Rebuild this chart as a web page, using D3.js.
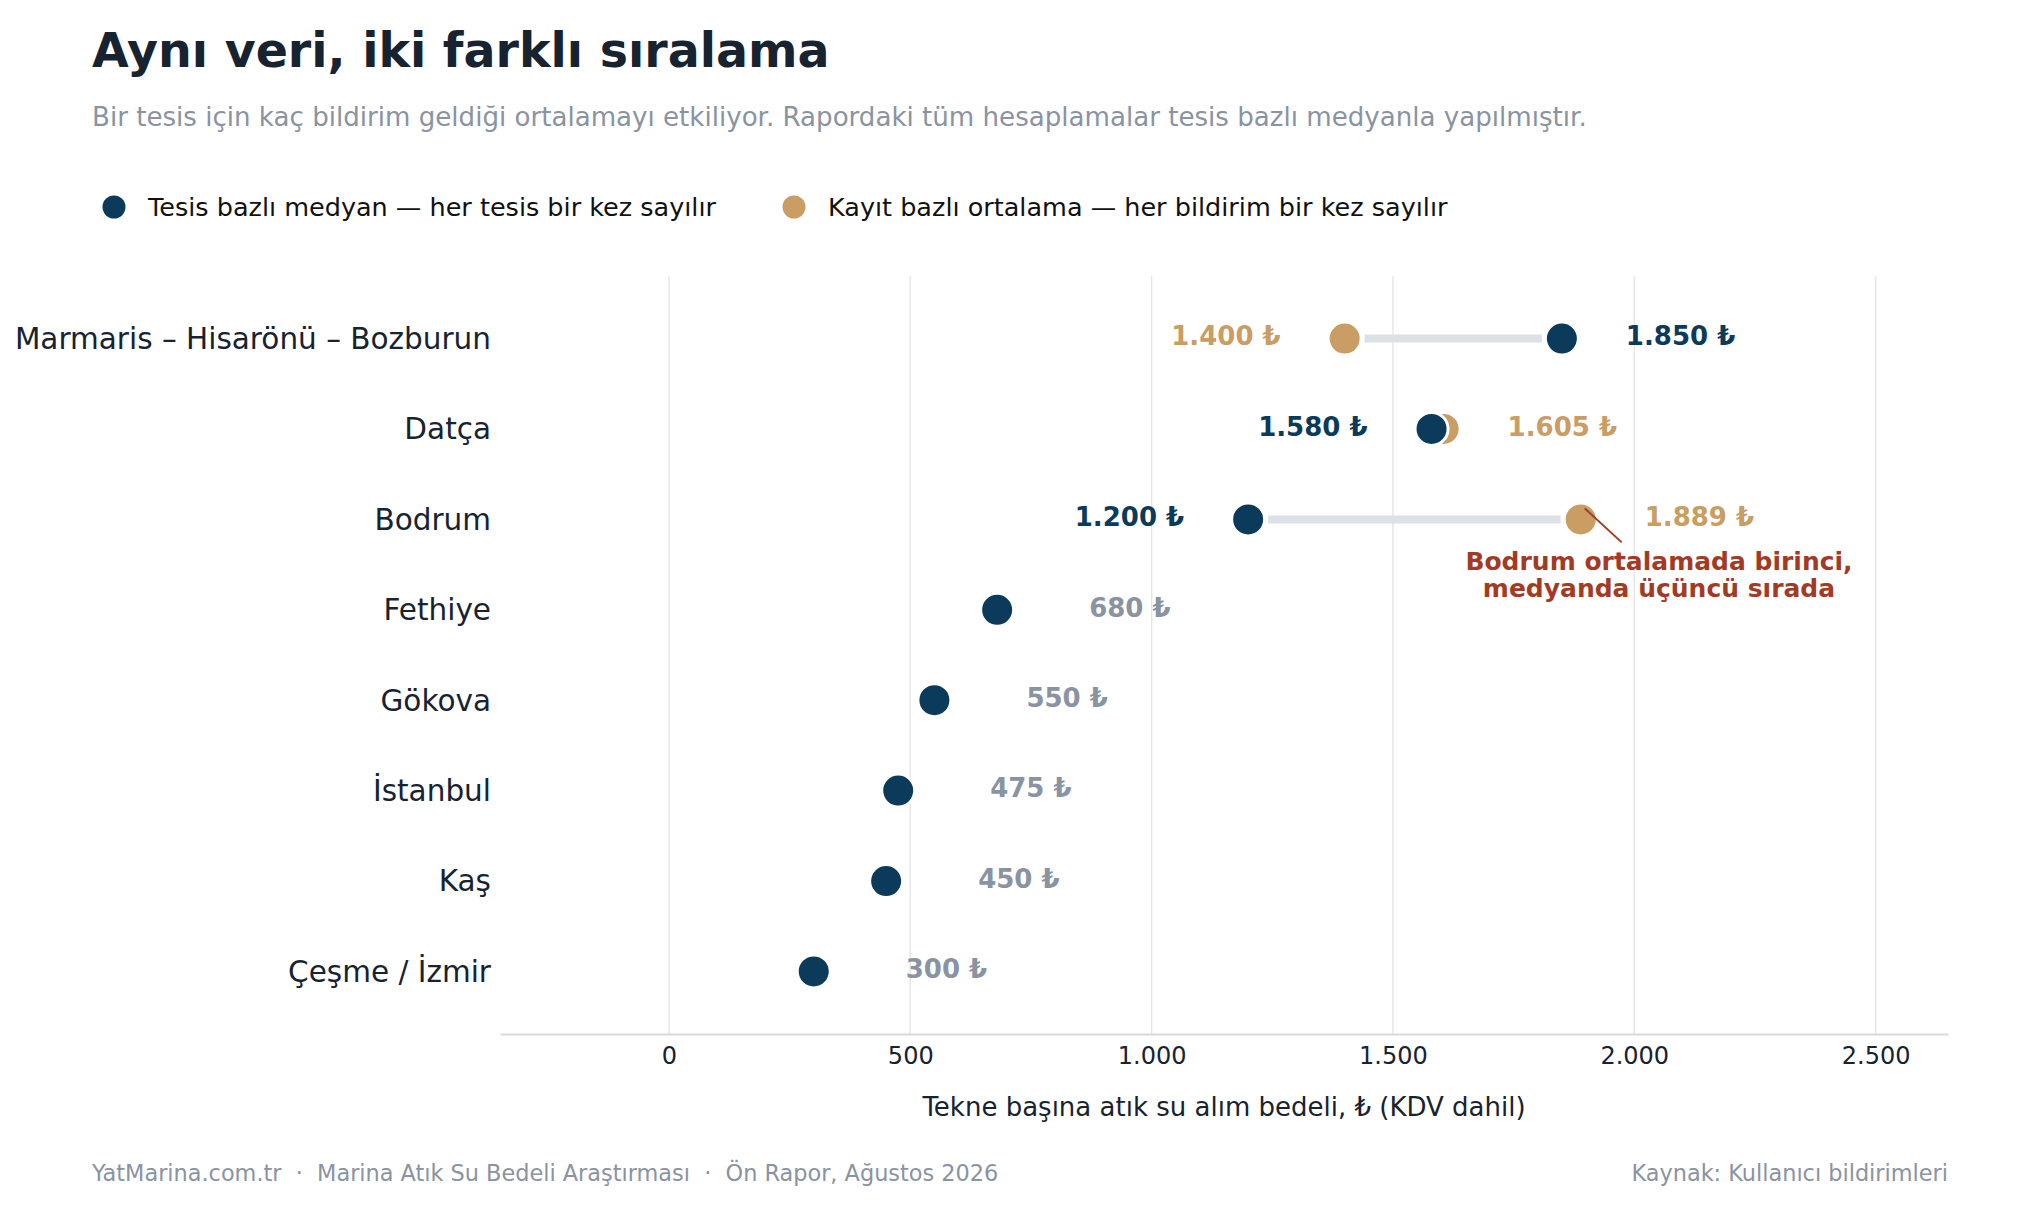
<!DOCTYPE html>
<html lang="tr">
<head>
<meta charset="utf-8">
<script src="https://cdn.jsdelivr.net/npm/d3@7"></script>
<style>
  html, body { margin: 0; padding: 0; background: #fff; }
  svg { display: block; font-family: "DejaVu Sans", sans-serif; }
</style>
</head>
<body>
<div id="chart"></div>
<script>
// Data
const regions = ["Marmaris – Hisarönü – Bozburun", "Datça", "Bodrum", "Fethiye", "Gökova", "İstanbul", "Kaş", "Çeşme / İzmir"];
const medians = [1850, 1580, 1200, 680, 550, 475, 450, 300];
const means = [1400, 1605, 1889, null, null, null, null, null];
const xTicks = [0, 500, 1000, 1500, 2000, 2500];
const legendLabels = ["Tesis bazlı medyan — her tesis bir kez sayılır", "Kayıt bazlı ortalama — her bildirim bir kez sayılır"];

const W = 2040, H = 1224;
const plot = { left: 500, right: 1948, top: 276, bottom: 1034 };
const NAVY = "#0b3a5b", TAN = "#c99d63", GRAY = "#8a93a1", DARK = "#17232f", RED = "#a33b24";

const trFormat = d3.formatLocale({ decimal: ",", thousands: ".", grouping: [3], currency: ["", " ₺"] });
const fmt = trFormat.format(",.0f");

const svg = d3.select("#chart").append("svg").attr("width", W).attr("height", H);

const x = d3.scaleLinear().domain([-350, 2650]).range([plot.left, plot.right]);
const y = d3.scalePoint().domain(regions).range([plot.top, plot.bottom]).padding(0.692);

// Title & subtitle
svg.append("text").attr("x", 92).attr("y", 67)
    .attr("font-size", 47.5).attr("font-weight", "bold").attr("fill", DARK)
    .text("Aynı veri, iki farklı sıralama");
svg.append("text").attr("x", 92).attr("y", 126)
    .attr("font-size", 26.1).attr("fill", GRAY)
    .text("Bir tesis için kaç bildirim geldiği ortalamayı etkiliyor. Rapordaki tüm hesaplamalar tesis bazlı medyanla yapılmıştır.");

// Legend
const legend = svg.append("g");
[[114, NAVY], [794, TAN]].forEach(([lx, col], i) => {
    legend.append("circle").attr("cx", lx).attr("cy", 207).attr("r", 11.5).attr("fill", col);
    legend.append("text").attr("x", lx + 34).attr("y", 207).attr("dy", "0.35em")
        .attr("font-size", 25.5).attr("fill", "#111")
        .text(legendLabels[i]);
});

// Gridlines
svg.append("g").selectAll("line").data(xTicks).join("line")
    .attr("x1", d => x(d)).attr("x2", d => x(d))
    .attr("y1", plot.top).attr("y2", plot.bottom)
    .attr("stroke", "#e5e7eb").attr("stroke-width", 1.5);

// X axis
const xAxis = svg.append("g").attr("transform", `translate(0,${plot.bottom})`)
    .call(d3.axisBottom(x).tickValues(xTicks).tickFormat(fmt).tickSize(0).tickPadding(13));
xAxis.select(".domain").attr("stroke", "#d6dbe1").attr("stroke-width", 2);
xAxis.selectAll("text").attr("font-size", 24).attr("fill", DARK).attr("font-family", "DejaVu Sans");

svg.append("text").attr("x", (plot.left + plot.right) / 2).attr("y", 1116)
    .attr("text-anchor", "middle").attr("font-size", 26).attr("fill", DARK)
    .text("Tekne başına atık su alım bedeli, ₺ (KDV dahil)");

// Y labels
svg.append("g").selectAll("text").data(regions).join("text")
    .attr("x", 491).attr("y", d => y(d)).attr("dy", "0.35em")
    .attr("text-anchor", "end").attr("font-size", 29.5).attr("fill", DARK)
    .text(d => d);

// Rows
const rows = regions.map((r, i) => ({ region: r, median: medians[i], mean: means[i] }));

// connectors
svg.append("g").selectAll("line")
    .data(rows.filter(d => d.mean != null && Math.abs(x(d.mean) - x(d.median)) > 40))
    .join("line")
    .attr("x1", d => x(Math.min(d.mean, d.median)) + 20)
    .attr("x2", d => x(Math.max(d.mean, d.median)) - 20)
    .attr("y1", d => y(d.region)).attr("y2", d => y(d.region))
    .attr("stroke", "#dce1e7").attr("stroke-width", 8);

// mean dots (under)
svg.append("g").selectAll("circle").data(rows.filter(d => d.mean != null)).join("circle")
    .attr("cx", d => x(d.mean)).attr("cy", d => y(d.region)).attr("r", 16.5)
    .attr("fill", TAN).attr("stroke", "#fff").attr("stroke-width", 3);

// median dots
svg.append("g").selectAll("circle").data(rows).join("circle")
    .attr("cx", d => x(d.median)).attr("cy", d => y(d.region)).attr("r", 16.5)
    .attr("fill", NAVY).attr("stroke", "#fff").attr("stroke-width", 3);

// value labels
const labels = [];
rows.forEach(d => {
    if (d.mean == null) {
        labels.push({ region: d.region, v: d.median, x: x(d.median) + 92, anchor: "start", color: GRAY });
    } else {
        const lo = Math.min(d.mean, d.median), hi = Math.max(d.mean, d.median);
        const colOf = v => (v === d.median ? NAVY : TAN);
        labels.push({ region: d.region, v: lo, x: x(lo) - 64, anchor: "end", color: colOf(lo) });
        labels.push({ region: d.region, v: hi, x: x(hi) + 64, anchor: "start", color: colOf(hi) });
    }
});
svg.append("g").selectAll("text").data(labels).join("text")
    .attr("x", d => d.x).attr("y", d => y(d.region)).attr("dy", "0.26em")
    .attr("text-anchor", d => d.anchor).attr("font-size", 26).attr("font-weight", "bold")
    .attr("fill", d => d.color)
    .text(d => fmt(d.v) + " ₺");

// Annotation for Bodrum
const by = y("Bodrum"), bx = x(1889);
svg.append("line").attr("x1", bx + 4).attr("y1", by - 11).attr("x2", bx + 41).attr("y2", by + 23)
    .attr("stroke", RED).attr("stroke-width", 2);
const note = svg.append("text").attr("x", 1659).attr("y", by + 51)
    .attr("text-anchor", "middle").attr("font-size", 25).attr("font-weight", "bold").attr("fill", RED);
note.append("tspan").attr("x", 1659).text("Bodrum ortalamada birinci,");
note.append("tspan").attr("x", 1659).attr("dy", 27).text("medyanda üçüncü sırada");

// Footer
svg.append("text").attr("x", 92).attr("y", 1181).attr("font-size", 22.4).attr("fill", GRAY)
    .attr("xml:space", "preserve")
    .text("YatMarina.com.tr  ·  Marina Atık Su Bedeli Araştırması  ·  Ön Rapor, Ağustos 2026");
svg.append("text").attr("x", plot.right).attr("y", 1181).attr("text-anchor", "end")
    .attr("font-size", 22.4).attr("fill", GRAY)
    .text("Kaynak: Kullanıcı bildirimleri");
</script>
</body>
</html>
